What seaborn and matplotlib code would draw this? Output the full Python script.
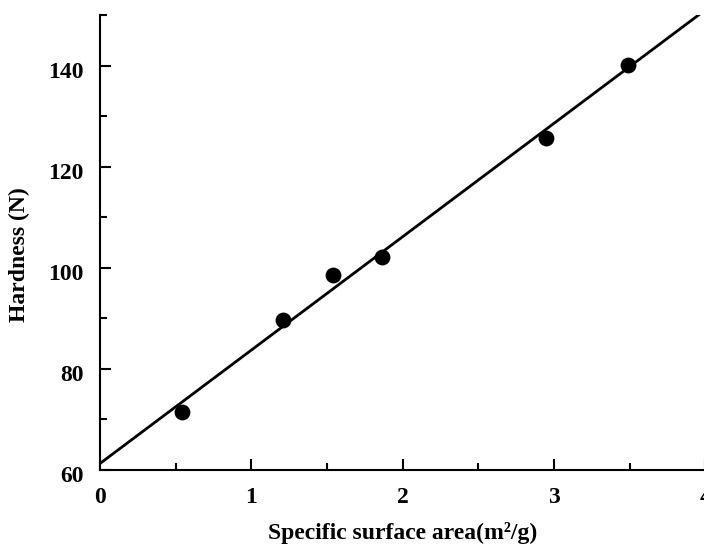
import numpy as np
import pandas as pd
import matplotlib
matplotlib.use("Agg")
import matplotlib.pyplot as plt
import matplotlib.transforms as mtransforms
import seaborn as sns
from matplotlib.ticker import MultipleLocator

# Data
surface_area = [0.54, 1.21, 1.54, 1.86, 2.95, 3.49]
hardness = [71.5, 89.6, 98.5, 102.2, 125.7, 140.2]
x_ticks = [0, 1, 2, 3, 4]
y_ticks = [60, 80, 100, 120, 140]

df = pd.DataFrame({"area": surface_area, "hardness": hardness})

sns.set_theme(style="ticks")
plt.rcParams['font.family'] = ['Liberation Serif', 'DejaVu Serif']
plt.rcParams['font.weight'] = 'bold'
plt.rcParams['text.color'] = 'black'
plt.rcParams['axes.labelcolor'] = 'black'
plt.rcParams['xtick.color'] = 'black'
plt.rcParams['ytick.color'] = 'black'
plt.rcParams['xtick.labelcolor'] = 'black'
plt.rcParams['ytick.labelcolor'] = 'black'

fig = plt.figure(figsize=(7.04, 5.44), dpi=100)
ax = fig.add_axes([100/704, 74/544, 1 - 100/704 + 0.002, (470 - 15)/544])
ax.set_xlim(0, 4)
ax.set_ylim(60, 150)

sns.regplot(data=df, x="area", y="hardness", ax=ax, ci=None, truncate=False,
            scatter_kws=dict(s=130, color="black", alpha=1, edgecolor="black",
                             linewidths=0, zorder=3),
            line_kws=dict(color="black", lw=2.0))
ax.set_xlim(0, 4)
ax.set_ylim(60, 150)

ax.set_xticks(x_ticks)
ax.set_yticks(y_ticks)
ax.xaxis.set_minor_locator(MultipleLocator(0.5))
ax.yaxis.set_minor_locator(MultipleLocator(10))
ax.tick_params(axis="both", which="major", direction="in", length=8, width=1.5,
               labelsize=17, color="black", labelcolor="black")
ax.tick_params(axis="both", which="minor", direction="in", length=5, width=1.5, color="black")
ax.tick_params(axis="x", which="major", pad=12)
ax.tick_params(axis="y", which="major", pad=12)
shift = mtransforms.ScaledTranslation(0, -4/100, fig.dpi_scale_trans)
for lab in ax.get_yticklabels():
    lab.set_fontweight("bold")
    lab.set_transform(lab.get_transform() + shift)
for lab in ax.get_xticklabels():
    lab.set_fontweight("bold")

for s in ["top", "right"]:
    ax.spines[s].set_visible(False)
for s in ["left", "bottom"]:
    ax.spines[s].set_linewidth(1.5)
    ax.spines[s].set_color("black")

ax.set_xlabel("Specific surface area(m²/g)", fontsize=17, fontweight="bold",
              labelpad=10, color="black")
ax.set_ylabel("Hardness (N)", fontsize=17, fontweight="bold", labelpad=10, color="black")
ax.yaxis.set_label_coords(-0.115, 0.4725)

fig.savefig("out.png", dpi=100)
